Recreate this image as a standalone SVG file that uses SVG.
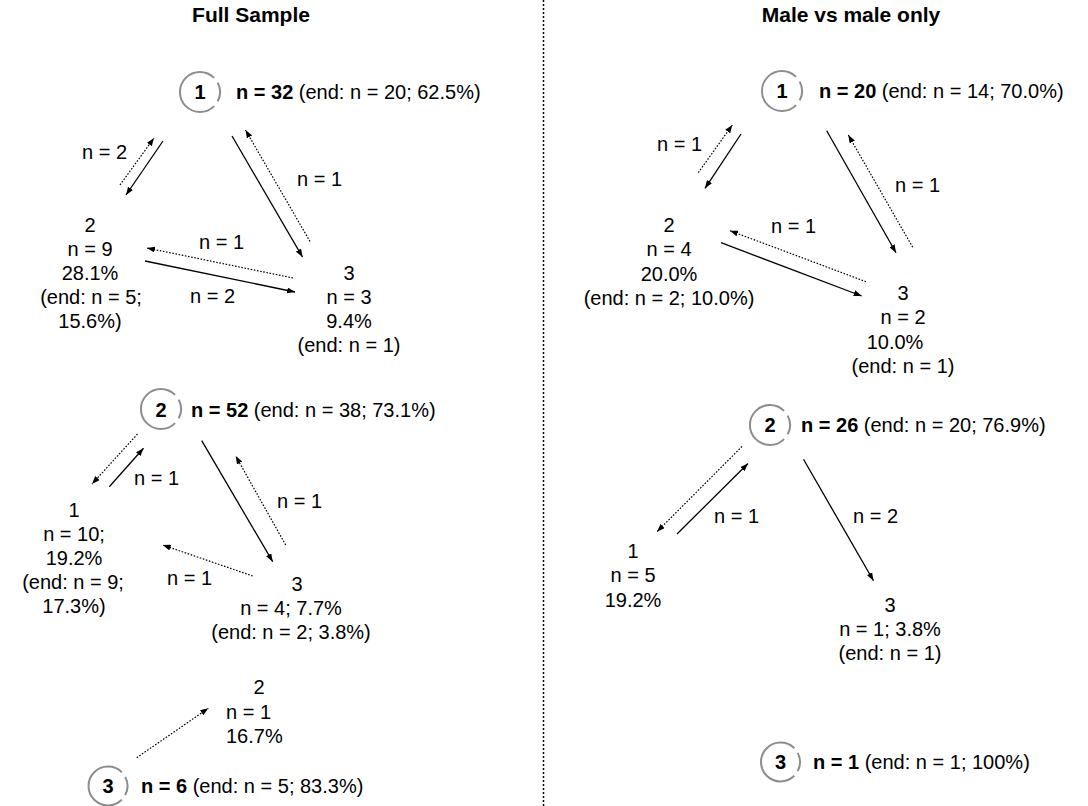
<svg xmlns="http://www.w3.org/2000/svg" width="1088" height="806" viewBox="0 0 1088 806">
<style>
text{font-family:"Liberation Sans",Arial,sans-serif;font-size:20px;fill:#000}
.t{font-weight:bold;font-size:21px}
.c{text-anchor:middle}
.b{font-weight:bold}
.ring{fill:none;stroke:#8c8c8c;stroke-width:2}
.s{stroke:#000;stroke-width:1.3;fill:none;marker-end:url(#ah)}
.d{stroke:#000;stroke-width:1.2;fill:none;stroke-dasharray:1.6 1.6;marker-end:url(#ah)}
.div{stroke:#000;stroke-width:1.5;stroke-dasharray:2 2}
</style>
<defs>
<marker id="ah" markerUnits="userSpaceOnUse" markerWidth="8" markerHeight="6" refX="8" refY="3" orient="auto">
<path d="M0,0 L8,3 L0,6 z" fill="#000"/>
</marker>
</defs>
<rect width="1088" height="806" fill="#fff"/>
<line class="div" x1="543.5" y1="0" x2="543.5" y2="806"/>
<text class="t c" x="251" y="22">Full Sample</text>
<text class="t c" x="851" y="22">Male vs male only</text>

<g id="connectors">
<line class="d" x1="120" y1="185" x2="154" y2="138"/>
<line class="s" x1="163" y1="141" x2="126" y2="195"/>
<line class="s" x1="232" y1="136" x2="302.5" y2="257"/>
<line class="d" x1="310" y1="241.5" x2="245.5" y2="130"/>
<line class="d" x1="293" y1="278" x2="147" y2="248"/>
<line class="s" x1="145" y1="261" x2="295" y2="292"/>
<line class="d" x1="137.5" y1="434" x2="92" y2="484"/>
<line class="s" x1="109.3" y1="486.7" x2="143.5" y2="448.3"/>
<line class="s" x1="201.7" y1="440.7" x2="272.7" y2="561.7"/>
<line class="d" x1="285.7" y1="545" x2="235.7" y2="456"/>
<line class="d" x1="252.7" y1="576" x2="162.7" y2="545"/>
<line class="d" x1="136.7" y1="757.7" x2="208.3" y2="708.3"/>
<line class="d" x1="698.3" y1="172.7" x2="732.3" y2="125"/>
<line class="s" x1="741" y1="134" x2="705" y2="188.3"/>
<line class="s" x1="826.7" y1="130.7" x2="896" y2="252.7"/>
<line class="d" x1="912.7" y1="247.3" x2="848.3" y2="135"/>
<line class="d" x1="866" y1="281.7" x2="730" y2="230.7"/>
<line class="s" x1="721" y1="242.7" x2="861.7" y2="296"/>
<line class="d" x1="742" y1="446.5" x2="657" y2="531.7"/>
<line class="s" x1="677" y1="534" x2="748" y2="463.5"/>
<line class="s" x1="803.5" y1="459.3" x2="873.5" y2="580.7"/>
</g>

<g id="edge-labels">
<text x="82" y="159">n = 2</text>
<text x="297" y="186">n = 1</text>
<text x="199" y="249">n = 1</text>
<text x="190" y="303">n = 2</text>
<text x="134" y="485">n = 1</text>
<text x="277" y="508">n = 1</text>
<text x="167" y="585">n = 1</text>
<text x="657" y="151">n = 1</text>
<text x="895" y="192">n = 1</text>
<text x="771" y="233">n = 1</text>
<text x="714" y="523">n = 1</text>
<text x="853" y="523">n = 2</text>
</g>

<g id="L1-start">
<path class="ring" d="M214.1,77.9 A20,20 0 1 0 214.1,106.1 M217.7,82.6 A20,20 0 0 1 217.7,101.4"/>
<text class="b c" x="200" y="98.5">1</text>
<text x="236" y="98.5"><tspan class="b">n = 32</tspan> (end: n = 20; 62.5%)</text>
</g>
<g id="L1-n2">
<text class="c" x="90" y="232">2</text>
<text class="c" x="90" y="256">n = 9</text>
<text class="c" x="90" y="280">28.1%</text>
<text class="c" x="91" y="304">(end: n = 5;</text>
<text class="c" x="90" y="328">15.6%)</text>
</g>
<g id="L1-n3">
<text class="c" x="349" y="280">3</text>
<text class="c" x="349" y="304">n = 3</text>
<text class="c" x="349" y="328">9.4%</text>
<text class="c" x="349" y="352">(end: n = 1)</text>
</g>

<g id="L2-start">
<path class="ring" d="M175.1,394.9 A20,20 0 1 0 175.1,423.1 M178.7,399.6 A20,20 0 0 1 178.7,418.4"/>
<text class="b c" x="161" y="416.5">2</text>
<text x="191" y="416.5"><tspan class="b">n = 52</tspan> (end: n = 38; 73.1%)</text>
</g>
<g id="L2-n1">
<text class="c" x="74" y="517">1</text>
<text class="c" x="74" y="541">n = 10;</text>
<text class="c" x="74" y="565">19.2%</text>
<text class="c" x="73" y="589">(end: n = 9;</text>
<text class="c" x="74" y="613">17.3%)</text>
</g>
<g id="L2-n3">
<text class="c" x="297" y="591">3</text>
<text class="c" x="291" y="615">n = 4; 7.7%</text>
<text class="c" x="291" y="639">(end: n = 2; 3.8%)</text>
</g>

<g id="L3-start">
<path class="ring" d="M121.8,772.2 A19.5,19.5 0 1 0 121.8,799.8 M125.2,776.9 A19.5,19.5 0 0 1 125.2,795.1"/>
<text class="b c" x="108" y="793">3</text>
<text x="141" y="793"><tspan class="b">n = 6</tspan> (end: n = 5; 83.3%)</text>
</g>
<g id="L3-n2">
<text class="c" x="259" y="694">2</text>
<text x="226" y="719">n = 1</text>
<text x="226" y="743">16.7%</text>
</g>

<g id="R1-start">
<path class="ring" d="M796.1,76.9 A20,20 0 1 0 796.1,105.1 M799.7,81.6 A20,20 0 0 1 799.7,100.4"/>
<text class="b c" x="782" y="97.5">1</text>
<text x="819" y="97.5"><tspan class="b">n = 20</tspan> (end: n = 14; 70.0%)</text>
</g>
<g id="R1-n2">
<text class="c" x="669" y="232">2</text>
<text class="c" x="669" y="256">n = 4</text>
<text class="c" x="669" y="281">20.0%</text>
<text class="c" x="669" y="305">(end: n = 2; 10.0%)</text>
</g>
<g id="R1-n3">
<text class="c" x="903" y="300">3</text>
<text class="c" x="903" y="324">n = 2</text>
<text class="c" x="895" y="349">10.0%</text>
<text class="c" x="903" y="373">(end: n = 1)</text>
</g>

<g id="R2-start">
<path class="ring" d="M784.1,410.9 A20,20 0 1 0 784.1,439.1 M787.7,415.6 A20,20 0 0 1 787.7,434.4"/>
<text class="b c" x="770" y="432">2</text>
<text x="801" y="432"><tspan class="b">n = 26</tspan> (end: n = 20; 76.9%)</text>
</g>
<g id="R2-n1">
<text class="c" x="633" y="558">1</text>
<text class="c" x="633" y="582">n = 5</text>
<text class="c" x="633" y="607">19.2%</text>
</g>
<g id="R2-n3">
<text class="c" x="890" y="612">3</text>
<text class="c" x="890" y="636">n = 1; 3.8%</text>
<text class="c" x="890" y="660">(end: n = 1)</text>
</g>

<g id="R3-start">
<path class="ring" d="M794.3,748.2 A19.5,19.5 0 1 0 794.3,775.8 M797.7,752.9 A19.5,19.5 0 0 1 797.7,771.1"/>
<text class="b c" x="780.5" y="768.5">3</text>
<text x="813" y="768.5"><tspan class="b">n = 1</tspan> (end: n = 1; 100%)</text>
</g>
</svg>
